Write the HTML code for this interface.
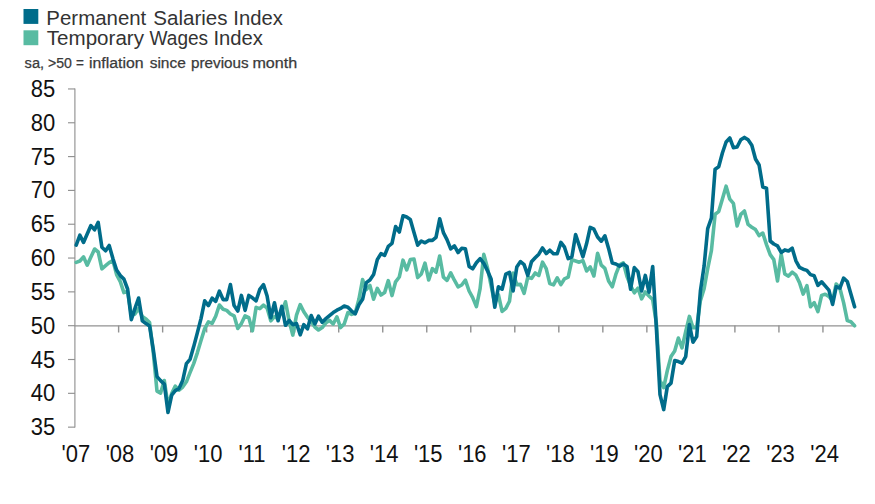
<!DOCTYPE html>
<html lang="en"><head><meta charset="utf-8"><title>Permanent Salaries / Temporary Wages Index</title>
<style>
html,body{margin:0;padding:0;background:#fff;}
body{width:875px;height:504px;overflow:hidden;font-family:"Liberation Sans",sans-serif;}
svg{display:block;}
text{font-family:"Liberation Sans",sans-serif;fill:#1a1a1a;}
.lg{font-size:19.7px;fill:#333;}
.sub{font-size:14px;fill:#3a3a3a;stroke:#3a3a3a;stroke-width:0.25px;}
.ax{font-size:22px;fill:#111;}
</style></head><body>
<svg width="875" height="504" viewBox="0 0 875 504">
<rect width="875" height="504" fill="#fff"/>
<rect x="23.5" y="9" width="14.8" height="14.9" fill="#006c8a"/>
<rect x="23.5" y="30.3" width="14.8" height="14.9" fill="#58bba2"/>
<text class="lg" y="24.8"><tspan x="46.36" textLength="99.92" lengthAdjust="spacingAndGlyphs">Permanent</tspan> <tspan x="153.36" textLength="74.19" lengthAdjust="spacingAndGlyphs">Salaries</tspan> <tspan x="233.27" textLength="49.50" lengthAdjust="spacingAndGlyphs">Index</tspan></text>
<text class="lg" y="45.1"><tspan x="46.80" textLength="97.20" lengthAdjust="spacingAndGlyphs">Temporary</tspan> <tspan x="149.60" textLength="58.53" lengthAdjust="spacingAndGlyphs">Wages</tspan> <tspan x="213.47" textLength="49.50" lengthAdjust="spacingAndGlyphs">Index</tspan></text>
<text class="sub" y="68.2"><tspan x="24.60" textLength="19.50" lengthAdjust="spacingAndGlyphs">sa,</tspan> <tspan x="48.00" textLength="23.91" lengthAdjust="spacingAndGlyphs">&gt;50</tspan> <tspan x="76.00" textLength="7.89" lengthAdjust="spacingAndGlyphs">=</tspan> <tspan x="89.00" textLength="54.65" lengthAdjust="spacingAndGlyphs">inflation</tspan> <tspan x="149.70" textLength="36.10" lengthAdjust="spacingAndGlyphs">since</tspan> <tspan x="191.00" textLength="57.63" lengthAdjust="spacingAndGlyphs">previous</tspan> <tspan x="252.41" textLength="44.83" lengthAdjust="spacingAndGlyphs">month</tspan></text>

<g stroke="#929292" stroke-width="1.4" fill="none">
<line stroke-width="1.15" x1="74.9" y1="88.4" x2="74.9" y2="427.6"/>
<line stroke-width="1.15" x1="68" y1="427.15" x2="75" y2="427.15"/>
<line stroke-width="1.15" x1="68" y1="393.33" x2="75" y2="393.33"/>
<line stroke-width="1.15" x1="68" y1="359.51" x2="75" y2="359.51"/>
<line stroke-width="1.15" x1="68" y1="325.69" x2="75" y2="325.69"/>
<line stroke-width="1.15" x1="68" y1="291.87" x2="75" y2="291.87"/>
<line stroke-width="1.15" x1="68" y1="258.05" x2="75" y2="258.05"/>
<line stroke-width="1.15" x1="68" y1="224.23" x2="75" y2="224.23"/>
<line stroke-width="1.15" x1="68" y1="190.41" x2="75" y2="190.41"/>
<line stroke-width="1.15" x1="68" y1="156.59" x2="75" y2="156.59"/>
<line stroke-width="1.15" x1="68" y1="122.77" x2="75" y2="122.77"/>
<line stroke-width="1.15" x1="68" y1="88.95" x2="75" y2="88.95"/>
<line x1="74.5" y1="325.89" x2="854" y2="325.89"/>
<line x1="118.62" y1="325.5" x2="118.62" y2="332.5"/>
<line x1="162.64" y1="325.5" x2="162.64" y2="332.5"/>
<line x1="206.66" y1="325.5" x2="206.66" y2="332.5"/>
<line x1="250.68" y1="325.5" x2="250.68" y2="332.5"/>
<line x1="294.70000000000005" y1="325.5" x2="294.70000000000005" y2="332.5"/>
<line x1="338.72" y1="325.5" x2="338.72" y2="332.5"/>
<line x1="382.74" y1="325.5" x2="382.74" y2="332.5"/>
<line x1="426.76" y1="325.5" x2="426.76" y2="332.5"/>
<line x1="470.78" y1="325.5" x2="470.78" y2="332.5"/>
<line x1="514.8000000000001" y1="325.5" x2="514.8000000000001" y2="332.5"/>
<line x1="558.82" y1="325.5" x2="558.82" y2="332.5"/>
<line x1="602.84" y1="325.5" x2="602.84" y2="332.5"/>
<line x1="646.86" y1="325.5" x2="646.86" y2="332.5"/>
<line x1="690.8800000000001" y1="325.5" x2="690.8800000000001" y2="332.5"/>
<line x1="734.9000000000001" y1="325.5" x2="734.9000000000001" y2="332.5"/>
<line x1="778.9200000000001" y1="325.5" x2="778.9200000000001" y2="332.5"/>
<line x1="822.94" y1="325.5" x2="822.94" y2="332.5"/>
</g>
<text class="ax" transform="translate(55.3,435.1) scale(1,1.1)" text-anchor="end">35</text>
<text class="ax" transform="translate(55.3,401.3) scale(1,1.1)" text-anchor="end">40</text>
<text class="ax" transform="translate(55.3,367.5) scale(1,1.1)" text-anchor="end">45</text>
<text class="ax" transform="translate(55.3,333.6) scale(1,1.1)" text-anchor="end">50</text>
<text class="ax" transform="translate(55.3,299.8) scale(1,1.1)" text-anchor="end">55</text>
<text class="ax" transform="translate(55.3,266.0) scale(1,1.1)" text-anchor="end">60</text>
<text class="ax" transform="translate(55.3,232.2) scale(1,1.1)" text-anchor="end">65</text>
<text class="ax" transform="translate(55.3,198.4) scale(1,1.1)" text-anchor="end">70</text>
<text class="ax" transform="translate(55.3,164.5) scale(1,1.1)" text-anchor="end">75</text>
<text class="ax" transform="translate(55.3,130.7) scale(1,1.1)" text-anchor="end">80</text>
<text class="ax" transform="translate(55.3,96.9) scale(1,1.1)" text-anchor="end">85</text>
<text class="ax" transform="translate(75.95,461.8) scale(1,1.1)" text-anchor="middle">&#39;07</text>
<text class="ax" transform="translate(119.98,461.8) scale(1,1.1)" text-anchor="middle">&#39;08</text>
<text class="ax" transform="translate(164.02,461.8) scale(1,1.1)" text-anchor="middle">&#39;09</text>
<text class="ax" transform="translate(208.06,461.8) scale(1,1.1)" text-anchor="middle">&#39;10</text>
<text class="ax" transform="translate(252.09,461.8) scale(1,1.1)" text-anchor="middle">&#39;11</text>
<text class="ax" transform="translate(296.12,461.8) scale(1,1.1)" text-anchor="middle">&#39;12</text>
<text class="ax" transform="translate(340.16,461.8) scale(1,1.1)" text-anchor="middle">&#39;13</text>
<text class="ax" transform="translate(384.19,461.8) scale(1,1.1)" text-anchor="middle">&#39;14</text>
<text class="ax" transform="translate(428.23,461.8) scale(1,1.1)" text-anchor="middle">&#39;15</text>
<text class="ax" transform="translate(472.26,461.8) scale(1,1.1)" text-anchor="middle">&#39;16</text>
<text class="ax" transform="translate(516.30,461.8) scale(1,1.1)" text-anchor="middle">&#39;17</text>
<text class="ax" transform="translate(560.34,461.8) scale(1,1.1)" text-anchor="middle">&#39;18</text>
<text class="ax" transform="translate(604.37,461.8) scale(1,1.1)" text-anchor="middle">&#39;19</text>
<text class="ax" transform="translate(648.40,461.8) scale(1,1.1)" text-anchor="middle">&#39;20</text>
<text class="ax" transform="translate(692.44,461.8) scale(1,1.1)" text-anchor="middle">&#39;21</text>
<text class="ax" transform="translate(736.48,461.8) scale(1,1.1)" text-anchor="middle">&#39;22</text>
<text class="ax" transform="translate(780.51,461.8) scale(1,1.1)" text-anchor="middle">&#39;23</text>
<text class="ax" transform="translate(824.54,461.8) scale(1,1.1)" text-anchor="middle">&#39;24</text>
<polyline points="76.2,262.4 79.9,261.0 83.5,256.8 87.2,265.2 90.9,257.1 94.6,249.0 98.2,252.0 101.9,268.8 105.6,265.6 109.2,262.6 112.9,260.6 116.6,274.6 120.3,281.6 123.9,292.6 127.6,291.6 131.3,314.6 134.9,314.1 138.6,308.6 142.3,316.6 146.0,319.0 149.6,322.6 153.3,352.6 157.0,391.1 160.6,393.1 164.3,380.6 168.0,405.6 171.7,393.6 175.3,386.1 179.0,390.1 182.7,387.0 186.4,381.8 190.0,372.6 193.7,363.6 197.4,352.6 201.0,340.6 204.7,328.6 208.4,321.9 212.1,323.4 215.7,316.2 219.4,305.0 223.1,309.2 226.7,310.4 230.4,314.0 234.1,315.8 237.8,328.4 241.4,323.6 245.1,315.8 248.8,317.6 252.4,330.8 256.1,307.4 259.8,308.6 263.5,305.2 267.1,308.1 270.8,320.8 274.5,316.6 278.1,318.6 281.8,311.6 285.5,301.8 289.2,321.1 292.8,335.1 296.5,315.1 300.2,304.6 303.8,311.8 307.5,317.3 311.2,321.6 314.9,327.0 318.5,330.0 322.2,327.6 325.9,322.8 329.5,320.4 333.2,324.0 336.9,316.8 340.6,327.6 344.2,324.0 347.9,312.6 351.6,314.4 355.2,313.2 358.9,299.3 362.6,279.6 366.3,289.6 369.9,285.4 373.6,299.2 377.3,288.4 381.0,295.0 384.6,292.6 388.3,280.6 392.0,295.6 395.6,281.8 399.3,277.0 403.0,260.2 406.7,269.8 410.3,259.6 414.0,259.0 417.7,277.6 421.3,274.0 425.0,263.2 428.7,280.0 432.4,268.6 436.0,272.2 439.7,256.0 443.4,277.1 447.0,280.4 450.7,272.9 454.4,280.2 458.1,286.8 461.7,285.0 465.4,280.2 469.1,291.0 472.7,297.6 476.4,306.6 480.1,288.6 483.8,254.4 487.4,267.6 491.1,285.6 494.8,303.6 498.4,294.6 502.1,311.4 505.8,308.4 509.5,301.2 513.1,273.0 516.8,284.6 520.5,284.4 524.1,293.4 527.8,277.2 531.5,278.4 535.2,273.0 538.8,275.4 542.5,262.2 546.2,268.6 549.8,283.6 553.5,284.8 557.2,277.8 560.9,284.6 564.5,278.8 568.2,277.2 571.9,259.8 575.6,261.0 579.2,262.2 582.9,260.6 586.6,271.0 590.2,266.8 593.9,276.0 597.6,253.2 601.3,265.2 604.9,268.4 608.6,281.1 612.3,286.8 615.9,274.2 619.6,264.8 623.3,262.8 627.0,276.6 630.6,285.6 634.3,292.8 638.0,288.2 641.6,298.9 645.3,292.0 649.0,295.9 652.7,299.6 656.3,322.6 660.0,380.6 663.7,387.6 667.3,370.6 671.0,356.6 674.7,351.1 678.4,338.0 682.0,347.8 685.7,331.6 689.4,316.4 693.0,327.8 696.7,327.6 700.4,300.6 704.1,288.6 707.7,268.6 711.4,250.6 715.1,214.2 718.7,211.6 722.4,199.0 726.1,186.2 729.8,199.2 733.4,203.4 737.1,226.0 740.8,214.4 744.4,211.0 748.1,224.4 751.8,227.2 755.5,229.6 759.1,235.6 762.8,233.1 766.5,244.6 770.2,254.6 773.8,259.6 777.5,280.9 781.2,254.2 784.8,274.0 788.5,276.1 792.2,272.2 795.9,275.2 799.5,282.6 803.2,294.1 806.9,285.6 810.5,306.8 814.2,302.6 817.9,311.6 821.6,295.4 825.2,294.2 828.9,296.6 832.6,300.6 836.2,284.0 839.9,288.2 843.6,302.6 847.3,320.6 850.9,321.8 854.6,325.8" fill="none" stroke="#58bba2" stroke-width="3.6" stroke-linejoin="round" stroke-linecap="round"/>
<polyline points="76.2,245.1 79.9,235.2 83.5,242.4 87.2,234.0 90.9,225.6 94.6,229.8 98.2,222.4 101.9,247.2 105.6,250.8 109.2,245.4 112.9,258.6 116.6,270.1 120.3,275.6 123.9,279.1 127.6,289.0 131.3,319.6 134.9,308.6 138.6,298.0 142.3,320.8 146.0,323.6 149.6,326.1 153.3,349.6 157.0,376.6 160.6,380.6 164.3,384.1 168.0,412.5 171.7,395.1 175.3,390.6 179.0,388.6 182.7,380.6 186.4,363.6 190.0,359.4 193.7,346.6 197.4,332.6 201.0,318.6 204.7,300.8 208.4,305.6 212.1,298.2 215.7,301.4 219.4,291.2 223.1,299.6 226.7,299.6 230.4,284.6 234.1,305.6 237.8,311.0 241.4,295.4 245.1,310.4 248.8,295.4 252.4,297.8 256.1,300.8 259.8,289.4 263.5,284.6 267.1,296.0 270.8,317.8 274.5,302.8 278.1,320.8 281.8,306.4 285.5,325.3 289.2,320.5 292.8,324.7 296.5,323.5 300.2,334.8 303.8,324.6 307.5,328.8 311.2,315.6 314.9,324.0 318.5,316.2 322.2,322.2 325.9,318.6 329.5,315.6 333.2,312.6 336.9,310.2 340.6,308.4 344.2,306.0 347.9,307.2 351.6,311.1 355.2,313.8 358.9,304.7 362.6,299.3 366.3,282.6 369.9,280.0 373.6,274.6 377.3,259.6 381.0,253.6 384.6,255.4 388.3,246.4 392.0,243.4 395.6,226.6 399.3,232.0 403.0,215.8 406.7,217.0 410.3,219.4 414.0,232.6 417.7,245.2 421.3,241.0 425.0,242.8 428.7,240.4 432.4,240.4 436.0,237.4 439.7,218.8 443.4,232.6 447.0,239.6 450.7,248.9 454.4,245.9 458.1,252.5 461.7,248.3 465.4,248.9 469.1,266.4 472.7,268.8 476.4,262.8 480.1,258.6 483.8,263.4 487.4,270.6 491.1,279.0 494.8,307.2 498.4,286.8 502.1,289.2 505.8,274.2 509.5,272.4 513.1,291.0 516.8,267.0 520.5,261.6 524.1,264.6 527.8,275.4 531.5,261.8 535.2,257.8 538.8,254.2 542.5,248.0 546.2,253.6 549.8,250.2 553.5,253.8 557.2,253.8 560.9,242.4 564.5,247.2 568.2,258.6 571.9,256.8 575.6,234.6 579.2,245.4 582.9,256.8 586.6,243.6 590.2,227.4 593.9,229.2 597.6,237.0 601.3,241.2 604.9,235.8 608.6,248.4 612.3,263.1 615.9,264.0 619.6,266.1 623.3,264.0 627.0,266.4 630.6,289.2 634.3,267.6 638.0,271.8 641.6,291.0 645.3,275.4 649.0,292.2 652.7,266.6 656.3,326.6 660.0,394.6 663.7,409.6 667.3,386.6 671.0,383.1 674.7,360.6 678.4,361.6 682.0,363.1 685.7,356.6 689.4,324.6 693.0,342.2 696.7,336.6 700.4,291.1 704.1,266.1 707.7,228.6 711.4,218.2 715.1,169.2 718.7,166.8 722.4,153.0 726.1,142.0 729.8,138.0 733.4,147.6 737.1,147.0 740.8,139.8 744.4,137.4 748.1,139.8 751.8,145.2 755.5,159.0 759.1,165.0 762.8,187.0 766.5,188.2 770.2,241.0 773.8,244.0 777.5,245.8 781.2,252.4 784.8,249.9 788.5,251.0 792.2,248.2 795.9,260.8 799.5,267.4 803.2,269.2 806.9,270.4 810.5,274.6 814.2,275.8 817.9,285.4 821.6,281.8 825.2,285.9 828.9,290.1 832.6,304.4 836.2,286.8 839.9,288.1 843.6,278.1 847.3,281.5 850.9,294.0 854.6,306.8" fill="none" stroke="#006c8a" stroke-width="3.6" stroke-linejoin="round" stroke-linecap="round"/>
</svg></body></html>
